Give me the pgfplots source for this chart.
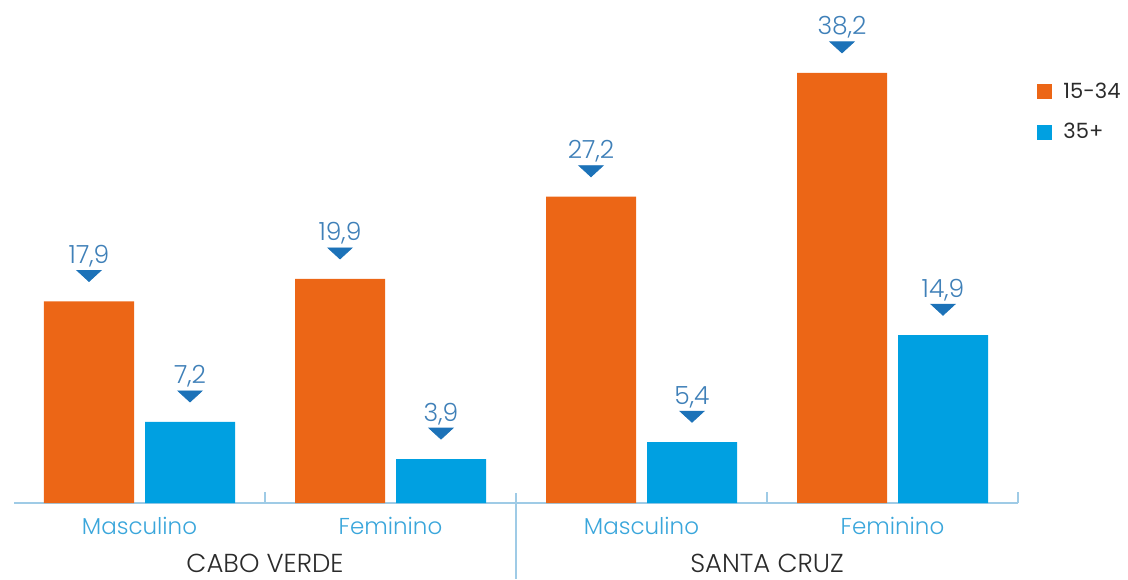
\documentclass[border=0pt]{standalone}
\usepackage{fontspec}
\setmainfont{Poppins}
\newfontfamily\lightf{Poppins Light}
\usepackage{pgfplots}
\pgfplotsset{compat=1.18}
\definecolor{bor}{HTML}{EC6616}
\definecolor{bbl}{HTML}{00A0E1}
\definecolor{valc}{HTML}{3F80B8}
\definecolor{tric}{HTML}{1C72B8}
\definecolor{catc}{HTML}{3AA6DB}
\definecolor{axc}{HTML}{9FCBE6}
\definecolor{grpc}{HTML}{2B2B2B}
\begin{document}
\begin{tikzpicture}
\path[use as bounding box] (-7pt,-38pt) rectangle (557pt,251.5pt);
\begin{axis}[
  scale only axis, width=502pt, height=251.5pt,
  xmin=-0.5, xmax=3.5, ymin=0, ymax=44.67,
  clip=false,
  axis x line=bottom, axis y line=none,
  axis line style={draw=axc, line width=0.7pt, -},
  xtick={0,1,2,3},
  xticklabels={Masculino,Feminino,Masculino,Feminino},
  major tick length=0pt,
  xticklabel style={font=\lightf\fontsize{11.5}{12}\selectfont, text=catc, anchor=base, yshift=-15.5pt},
  ytick=\empty,
  /pgf/number format/use comma,
  /pgf/number format/fixed,
  /pgf/number format/fixed zerofill,
  /pgf/number format/precision=1,
  /pgf/number format/assume math mode=true,
  nodes near coords style={font=\lightf\fontsize{12.5}{13}\selectfont, text=valc, anchor=base, yshift=19pt},
  legend style={at={(axis cs:3.576,37.7)}, anchor=north west, draw=none, fill=none, inner sep=0pt,
    row sep=7pt, font=\fontsize{10.5}{11}\selectfont, text=grpc,
    /tikz/every odd column/.style={column sep=3.5pt}},
  legend cell align=left,
]
\addplot[ybar, bar width=45pt, bar shift=-25.25pt, fill=bor, draw=none, nodes near coords,
  every node near coord/.append style={xshift=-25.25pt},
  legend image code/.code={\fill[bor] (0pt,-3.5pt) rectangle (7.5pt,4pt);}]
  coordinates {(0,17.9) (1,19.9) (2,27.2) (3,38.2)};
\addlegendentry{15-34}
\addplot[ybar, bar width=45pt, bar shift=25.25pt, fill=bbl, draw=none, nodes near coords,
  every node near coord/.append style={xshift=25.25pt},
  legend image code/.code={\fill[bbl] (0pt,-3.5pt) rectangle (7.5pt,4pt);}]
  coordinates {(0,7.2) (1,3.9) (2,5.4) (3,14.9)};
\addlegendentry{35+}
\addplot[forget plot, only marks, mark=triangle*, mark size=4pt, color=tric,
  mark options={yshift=13.67pt, xscale=1.73, yscale=0.917, rotate=180}]
  coordinates {(-0.2012,17.9) (0.7988,19.9) (1.7988,27.2) (2.7988,38.2)
               (0.2012,7.2) (1.2012,3.9) (2.2012,5.4) (3.2012,14.9)};
\draw[axc, line width=0.7pt] (axis cs:0.5,0) -- ([yshift=5.5pt]axis cs:0.5,0);
\draw[axc, line width=0.7pt] (axis cs:2.5,0) -- ([yshift=5.5pt]axis cs:2.5,0);
\draw[axc, line width=0.7pt] (axis cs:3.5,0) -- ([yshift=5.5pt]axis cs:3.5,0);
\draw[axc, line width=0.7pt] ([yshift=5pt]axis cs:1.5,0) -- ([yshift=-38pt]axis cs:1.5,0);
\node[font=\lightf\fontsize{13}{14}\selectfont, text=grpc, anchor=base, inner sep=0pt] at ([yshift=-34.5pt]axis cs:0.5,0) {CABO VERDE};
\node[font=\lightf\fontsize{13}{14}\selectfont, text=grpc, anchor=base, inner sep=0pt] at ([yshift=-34.5pt]axis cs:2.5,0) {SANTA CRUZ};
\end{axis}
\end{tikzpicture}
\end{document}
